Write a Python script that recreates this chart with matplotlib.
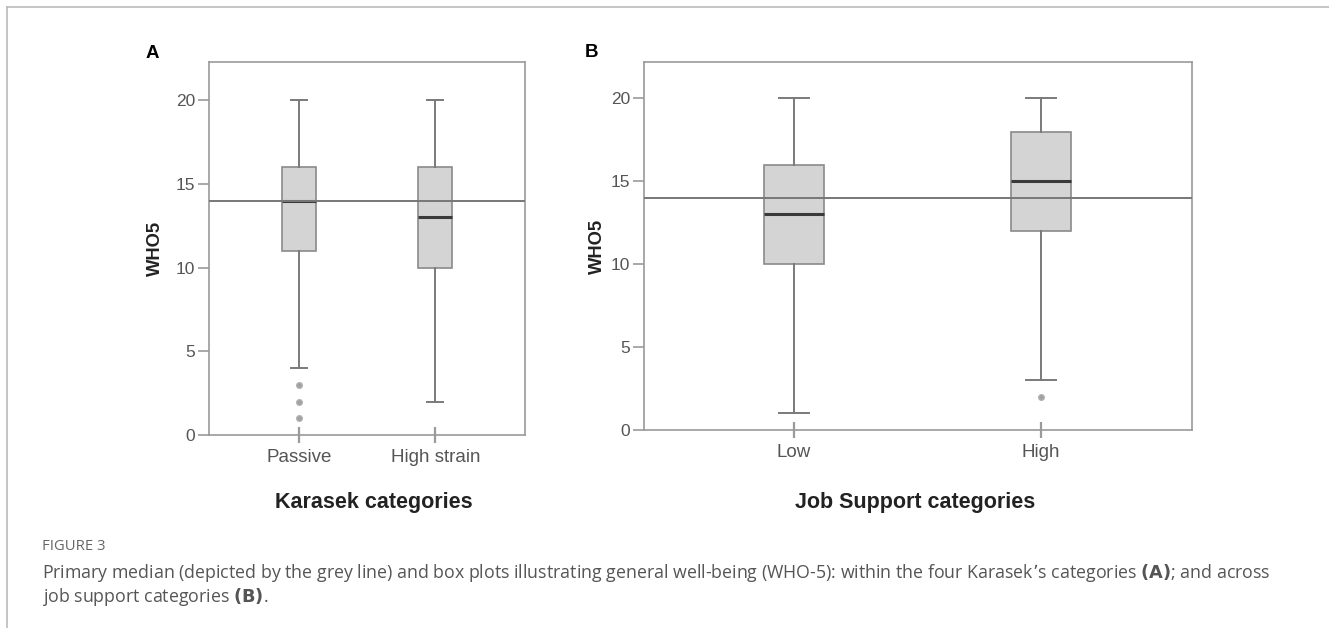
import matplotlib
matplotlib.use("Agg")
import matplotlib.pyplot as plt
from matplotlib.lines import Line2D

# Panel A: Karasek categories
cats_a = ["Passive", "High strain"]
stats_a = [
    dict(whislo=4, q1=11, med=14, q3=16, whishi=20, fliers=[3, 2, 1]),
    dict(whislo=2, q1=10, med=13, q3=16, whishi=20, fliers=[]),
]

# Panel B: Job Support categories
cats_b = ["Low", "High"]
stats_b = [
    dict(whislo=1, q1=10, med=13, q3=16, whishi=20, fliers=[]),
    dict(whislo=3, q1=12, med=15, q3=18, whishi=20, fliers=[2]),
]

primary_median = 14
yticks = [0, 5, 10, 15, 20]

plt.rcParams['font.family'] = ['Liberation Sans', 'DejaVu Sans']

fig = plt.figure(figsize=(13.29, 6.28), dpi=100)


def draw_panel(ax, stats, cats, xlim, ylim, box_w, cap_w, xlabel, letter,
               xlab_pos, ylab_x, letter_pos):
    ax.bxp(stats, positions=[1, 2], widths=box_w, patch_artist=True,
           showfliers=True, capwidths=cap_w,
           boxprops=dict(facecolor="#d4d4d4", edgecolor="#8a8a8a", linewidth=1.2),
           medianprops=dict(color="#3a3a3a", linewidth=2.2),
           whiskerprops=dict(color="#7a7a7a", linewidth=1.4),
           capprops=dict(color="#7a7a7a", linewidth=1.4),
           flierprops=dict(marker="o", markersize=4, markerfacecolor="#a0a0a0",
                           markeredgecolor="#b0b0b0"))
    ax.axhline(primary_median, color="#777777", linewidth=1.4, zorder=3)
    ax.set_xlim(*xlim)
    ax.set_ylim(*ylim)
    ax.set_yticks(yticks)
    ax.set_xticks([1, 2])
    ax.set_xticklabels(cats)
    for s in ax.spines.values():
        s.set_color("#9a9a9a")
        s.set_linewidth(1.2)
    ax.tick_params(axis="y", colors="#9a9a9a", labelcolor="#555555", labelsize=12.5,
                   length=8, width=1.2, pad=2)
    ax.tick_params(axis="x", colors="#9a9a9a", labelcolor="#555555", labelsize=13.5,
                   direction="inout", length=12, width=1.6, pad=4)
    ax.set_ylabel("WHO5", fontsize=13.2, fontweight="bold", color="#222222",
                  va="center")
    ax.yaxis.set_label_coords(ylab_x, 0.5)
    ax.set_xlabel(xlabel, fontsize=15.5, fontweight="bold", color="#222222",
                  va="center")
    ax.xaxis.set_label_coords(*xlab_pos)
    ax.text(letter_pos[0], letter_pos[1], letter, transform=ax.transAxes,
            fontsize=13.5, fontweight="bold", color="black", va="center")


ax_a = fig.add_axes([0.1573, 0.3073, 0.2378, 0.594])
draw_panel(ax_a, stats_a, cats_a, (0.338, 2.66), (0, 22.27), 0.25, 0.12,
           "Karasek categories", "A", (0.522, -0.182), -0.171, (-0.2025, 1.024))

ax_b = fig.add_axes([0.4846, 0.3153, 0.4123, 0.586])
draw_panel(ax_b, stats_b, cats_b, (0.393, 2.611), (0, 22.2), 0.243, 0.125,
           "Job Support categories", "B", (0.495, -0.196), -0.0858, (-0.1077, 1.0245))

# frame lines of the figure page
fig.add_artist(Line2D([7 / 1329, 1], [1 - 7 / 628, 1 - 7 / 628], color="#bbbbbb",
                      linewidth=1.2, transform=fig.transFigure))
fig.add_artist(Line2D([7 / 1329, 7 / 1329], [0, 1 - 7 / 628], color="#bbbbbb",
                      linewidth=1.2, transform=fig.transFigure))

# caption
cap_font = ['Open Sans', 'DejaVu Sans']
fig.text(42 / 1329, 1 - 547 / 628, "FIGURE 3", fontsize=10.7, color="#666666",
         family=cap_font, va="center")
fig.text(42 / 1329, 1 - 573 / 628,
         "Primary median (depicted by the grey line) and box plots illustrating general "
         "well-being (WHO-5): within the four Karasek\u2019s categories $\\bf{(A)}$; and across",
         fontsize=12.8, color="#555555", family=cap_font, va="center")
fig.text(42 / 1329, 1 - 597 / 628, "job support categories $\\bf{(B)}$.",
         fontsize=12.8, color="#555555", family=cap_font, va="center")

fig.savefig("out.png", dpi=100)
